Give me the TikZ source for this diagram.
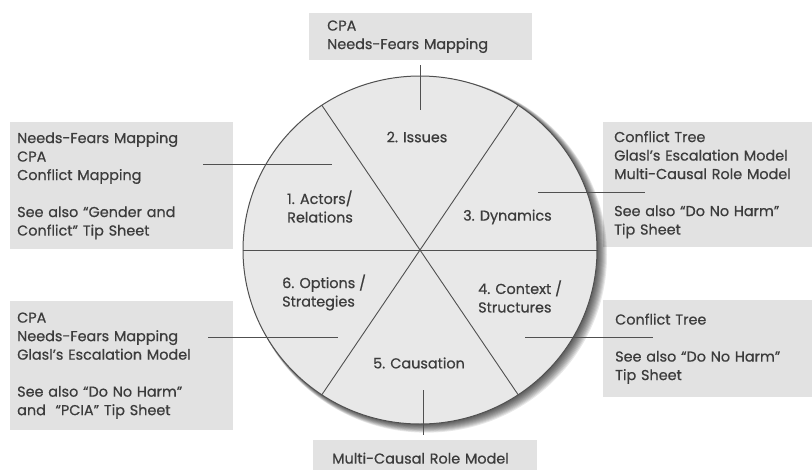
\documentclass[tikz,border=0pt]{standalone}
\usepackage{fontspec}
\setmainfont[FakeBold=0.6]{Poppins}
\usetikzlibrary{shapes.geometric}
\definecolor{boxgray}{RGB}{226,226,226}
\definecolor{circgray}{RGB}{232,232,232}
\definecolor{txt}{RGB}{60,60,60}
\definecolor{ln}{RGB}{80,80,80}
\begin{document}
\begin{tikzpicture}[x=1pt,y=-1pt,
  font=\fontsize{14.4}{18.5}\selectfont,
  box/.style={fill=boxgray, draw=none, inner sep=0pt, anchor=north west, text=txt, align=left},
  lbl/.style={inner sep=0pt, text=txt, align=left},
  conn/.style={draw=ln, line width=0.9pt}]
\useasboundingbox (0,0) rectangle (812,469);
% boxes
\node[box, minimum width=223pt, minimum height=47pt, text width=187pt] (btop) at (309,13)
  {CPA\\Needs-Fears Mapping};
\node[box, minimum width=223pt, minimum height=127pt, text width=209pt] (bl1) at (10,122)
  {Needs-Fears Mapping\\CPA\\Conflict Mapping\\[18.5pt]See also ``Gender and\\Conflict'' Tip Sheet};
\node[box, minimum width=209pt, minimum height=125pt, text width=187pt] (br1) at (603,122)
  {Conflict Tree\\Glasl’s Escalation Model\\Multi-Causal Role Model\\[18.5pt]See also ``Do No Harm''\\Tip Sheet};
\node[box, minimum width=223pt, minimum height=129pt, text width=209pt] (bl2) at (10,301)
  {CPA\\Needs-Fears Mapping\\Glasl’s Escalation Model\\[18.5pt]See also ``Do No Harm''\\and \ ``PCIA'' Tip Sheet};
\node[box, minimum width=209pt, minimum height=97pt, text width=185pt] (br2) at (603,300)
  {Conflict Tree\\[18.5pt]See also ``Do No Harm''\\Tip Sheet};
\node[box, minimum width=224pt, minimum height=36pt, text width=186pt] (bbot) at (313,440)
  {Multi-Causal Role Model};
% shadow
\foreach \k in {0,...,9}
  \fill[black, opacity=0.09] ({421+\k*0.6},{251+\k*0.45}) ellipse ({177+\k*0.4} and {174+\k*0.4});
% circle
\node[draw=ln, fill=circgray, line width=1pt, ellipse, inner sep=0pt,
  minimum width=354pt, minimum height=348pt] (circ) at (420,250) {};
\coordinate (c) at (420,250);
\coordinate (pul) at (321.8,105.2);
\coordinate (pur) at (518.2,105.2);
\coordinate (pll) at (321.8,394.8);
\coordinate (plr) at (518.2,394.8);
\draw[conn] (circ.west) -- (circ.east);
\draw[conn] (pul) -- (plr);
\draw[conn] (pur) -- (pll);
% connectors
\coordinate (t1) at (420,65);  \coordinate (t2) at (420,110);
\coordinate (l1a) at (203,164); \coordinate (l1b) at (332,164);
\coordinate (r1a) at (538,192); \coordinate (r1b) at (645,192);
\coordinate (l2a) at (208,337); \coordinate (l2b) at (338,337);
\coordinate (r2a) at (525,337); \coordinate (r2b) at (653,337);
\coordinate (d1) at (423,390);  \coordinate (d2) at (423,435);
\draw[conn] (t1) -- (t2);
\draw[conn] (l1a) -- (l1b);
\draw[conn] (r1a) -- (r1b);
\draw[conn] (l2a) -- (l2b);
\draw[conn] (r2a) -- (r2b);
\draw[conn] (d1) -- (d2);
% labels
\node[lbl] (s2) at (417,137) {2. Issues};
\node[lbl, anchor=west] (s1) at (287,206.5) {1. Actors/\\Relations};
\node[lbl, anchor=west] (s3) at (463,217) {3. Dynamics};
\node[lbl, anchor=west] (s6) at (282,292.5) {6. Options /\\Strategies};
\node[lbl, anchor=west] (s4) at (478,296.5) {4. Context /\\Structures};
\node[lbl] (s5) at (419,363) {5. Causation};
\end{tikzpicture}
\end{document}
